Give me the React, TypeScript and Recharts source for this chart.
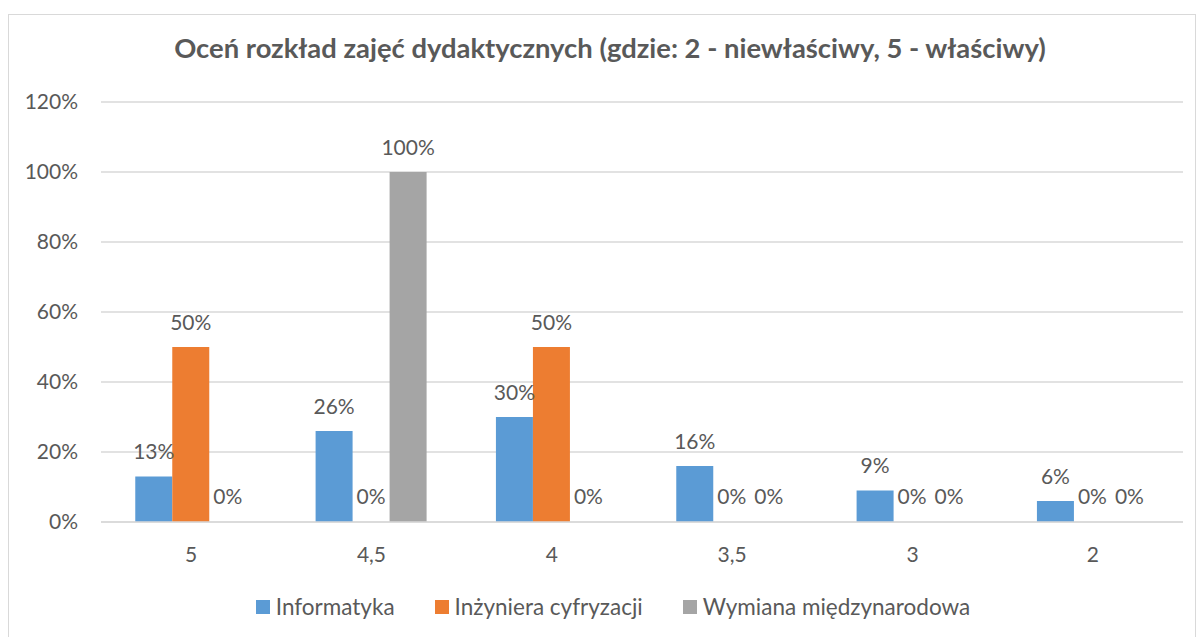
import React from "react";
import { BarChart, Bar, XAxis, YAxis, CartesianGrid } from "recharts";

const categories = ["5", "4,5", "4", "3,5", "3", "2"];
const informatyka = [13, 26, 30, 16, 9, 6];
const inzyniera = [50, 0, 50, 0, 0, 0];
const wymiana = [0, 100, 0, 0, 0, 0];
const seriesNames = ["Informatyka", "Inżyniera cyfryzacji", "Wymiana międzynarodowa"];
const seriesColors = ["#5B9BD5", "#ED7D31", "#A5A5A5"];
const yTicks = [0, 20, 40, 60, 80, 100, 120];
const title = "Oceń rozkład zajęć dydaktycznych (gdzie: 2 - niewłaściwy, 5 - właściwy)";

const data = categories.map((c, i) => ({
  cat: c,
  s0: informatyka[i],
  s1: inzyniera[i],
  s2: wymiana[i],
}));

const FONT = "Lato, 'Noto Sans', sans-serif";
const TXT = "#595959";

const renderLabel = (props: any) => {
  const { x, y, width, value } = props;
  if (value === undefined || value === null) return null;
  return (
    <text x={Number(x) + Number(width) / 2} y={Number(y) - 26} textAnchor="middle" dominantBaseline="central" fill={TXT} fontSize={21} fontFamily={FONT}>
      {`${value}%`}
    </text>
  );
};

export default function App() {
  return (
    <div style={{ position: "absolute", left: 0, top: 0, width: 1200, height: 637, overflow: "hidden", background: "#fff" }}>
      <div style={{ position: "absolute", left: 8, top: 14, width: 1188, height: 700, border: "1.5px solid #D9D9D9", boxSizing: "border-box" }} />
      <div style={{ position: "absolute", left: 0, top: 32, width: 1220, textAlign: "center", fontFamily: FONT, fontWeight: 700, fontSize: 27.4, color: TXT, lineHeight: "32px" }}>
        {title}
      </div>
      <div style={{ position: "absolute", left: 0, top: 0 }}>
        <BarChart width={1200} height={637} data={data} margin={{ top: 102, right: 17, bottom: 85, left: 0 }} barCategoryGap="19%" barGap={0}>
          <CartesianGrid vertical={false} stroke="#D9D9D9" strokeWidth={1.5} />
          <XAxis dataKey="cat" axisLine={{ stroke: "#D9D9D9", strokeWidth: 1.5 }} tickLine={false} tickSize={6} tickMargin={19} tick={{ fill: TXT, fontSize: 21, fontFamily: FONT }} />
          <YAxis width={101} domain={[0, 120]} ticks={yTicks} tickFormatter={(v: number) => `${v}%`} axisLine={false} tickLine={false} tickSize={6} tickMargin={17} tick={{ fill: TXT, fontSize: 21, fontFamily: FONT }} />
          {["s0", "s1", "s2"].map((k, i) => (
            <Bar key={k} dataKey={k} name={seriesNames[i]} fill={seriesColors[i]} isAnimationActive={false} minPointSize={0.01} label={renderLabel} />
          ))}
        </BarChart>
      </div>
      <div style={{ position: "absolute", left: 0, top: 592, width: 1226, display: "flex", justifyContent: "center", alignItems: "center", fontFamily: FONT, fontSize: 22.5, color: TXT, lineHeight: "30px" }}>
        {seriesNames.map((n, i) => (
          <div key={n} style={{ display: "flex", alignItems: "center", marginRight: i < seriesNames.length - 1 ? 40 : 0 }}>
            <span style={{ display: "inline-block", width: 14, height: 14, background: seriesColors[i], marginRight: 6 }} />
            <span>{n}</span>
          </div>
        ))}
      </div>
    </div>
  );
}
